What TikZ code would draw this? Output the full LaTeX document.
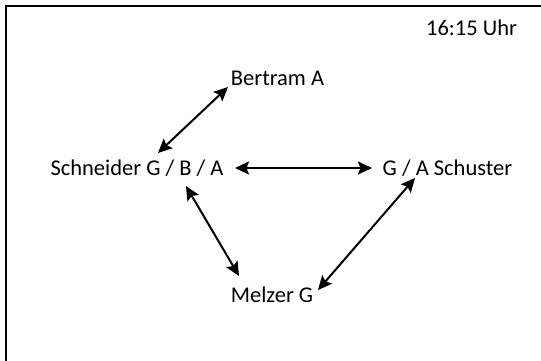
\documentclass[tikz,border=0pt]{standalone}
\usepackage{fontspec}
\setmainfont{Carlito}
\usetikzlibrary{arrows.meta,calc}
\tikzset{
  lbl/.style={inner sep=0pt, anchor=center, font=\fontsize{22.5}{26}\selectfont},
  arr/.style={line width=2pt, {Stealth[length=14pt,width=13pt,inset=2.5pt]}-{Stealth[length=14pt,width=13pt,inset=2.5pt]}},
  frame/.style={line width=2pt, draw=black}
}
\begin{document}
\begin{tikzpicture}[x=1pt,y=-1pt]
\useasboundingbox (0,0) rectangle (541,360);
\draw[frame] (6,362) -- (6,6) -- (543,6);
\node[lbl] (uhr) at (471.5,28) {16:15 Uhr};
\node[lbl] (bertram) at (277.5,78) {Bertram A};
\node[lbl] (schneider) at (137,168) {Schneider G / B / A};
\node[lbl] (schuster) at (447.5,168) {G / A Schuster};
\node[lbl] (melzer) at (272,295) {Melzer G};
\draw[arr] ($(bertram)+(-49.5,9)$) -- ($(schneider)+(21,-15)$);
\draw[arr] ($(schneider)+(98,0)$) -- ($(schuster)+(-75.5,0)$);
\draw[arr] ($(schneider)+(49,18)$) -- ($(melzer)+(-33,-19)$);
\draw[arr] ($(schuster)+(-32.5,10)$) -- ($(melzer)+(46,-5)$);
\end{tikzpicture}
\end{document}
